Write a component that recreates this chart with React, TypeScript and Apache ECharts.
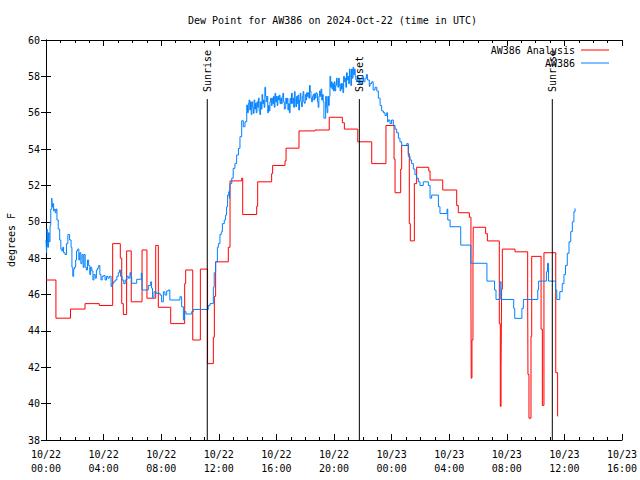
import React, { useEffect, useRef } from 'react';
import * as echarts from 'echarts';

const FONT = '"DejaVu Sans Mono", "Liberation Mono", monospace';
const titleText = 'Dew Point for AW386 on 2024-Oct-22 (time in UTC)';
const yAxisTitle = 'degrees F';
const analysisName = 'AW386 Analysis';
const stationName = 'AW386';
const analysisColor = '#ff0000';
const stationColor = '#0080ff';

// x axis: hours since 10/22 00:00 UTC
const xMin = 0;
const xMax = 40;
const xStep = 4;
const yMin = 38;
const yMax = 60;
const yStep = 2;

const sunEventHours = [11.2, 21.76, 35.16];
const sunEventLabels = ['Sunrise', 'Sunset', 'Sunrise'];
const sunLineTop = 56.75;

// AW386 Analysis [hour, deg F]
const analysisData: number[][] = [
  [0.0, 46.8], [0.69, 44.7], [1.7, 45.2], [2.71, 45.5], [3.7, 45.4], [4.63, 48.8],
  [5.16, 48.0], [5.26, 45.5], [5.37, 44.9], [5.6, 48.4], [5.92, 45.6], [6.67, 48.45],
  [7.01, 45.8], [7.62, 48.7], [7.8, 45.3], [8.66, 44.4], [9.63, 46.6], [9.7, 47.35],
  [10.19, 43.5], [10.72, 47.4], [11.22, 42.2], [11.62, 43.65], [11.69, 45.9], [11.78, 47.8],
  [12.66, 48.6], [12.78, 52.25], [13.59, 52.4], [13.66, 50.4], [14.63, 50.85], [14.7, 52.2],
  [15.67, 52.65], [15.74, 53.1], [16.6, 53.35], [16.67, 54.05], [17.57, 55.0], [18.68, 55.05],
  [19.67, 55.75], [20.58, 55.45], [20.72, 55.1], [21.65, 54.4], [22.62, 53.2], [23.61, 55.3],
  [24.17, 53.45], [24.24, 51.6], [24.63, 52.9], [24.7, 54.2], [25.16, 53.75], [25.23, 49.9],
  [25.3, 48.95], [25.58, 52.1], [25.74, 53.0], [26.58, 52.8], [26.67, 52.3], [27.55, 51.75],
  [28.52, 50.9], [28.63, 50.5], [29.4, 50.25], [29.51, 45.7], [29.53, 41.4], [29.58, 43.5],
  [29.65, 47.6], [29.67, 49.7], [30.53, 49.35], [30.65, 48.95], [31.48, 44.4], [31.55, 39.85],
  [31.6, 42.0], [31.64, 46.3], [31.69, 48.5], [32.57, 48.35], [33.45, 46.1], [33.47, 41.6],
  [33.54, 39.2], [33.68, 43.7], [33.73, 48.1], [34.38, 44.1], [34.47, 39.9], [34.58, 48.3],
  [35.4, 41.7], [35.53, 39.3], [35.56, 39.3],
];

// AW386 station observations [hour, deg F]
const stationData: number[][] = [
  [0.0, 49.0], [0.04, 48.3], [0.08, 49.6], [0.12, 48.6], [0.17, 49.4], [0.22, 48.9],
  [0.28, 49.8], [0.33, 50.7], [0.4, 51.3], [0.44, 50.8], [0.48, 51.0], [0.53, 50.6],
  [0.58, 50.7], [0.64, 50.5], [0.7, 50.7], [0.76, 50.1], [0.85, 49.6], [0.95, 49.0],
  [1.03, 48.5], [1.1, 48.4], [1.16, 48.6], [1.22, 48.3], [1.32, 48.2], [1.42, 48.8],
  [1.52, 49.3], [1.64, 49.0], [1.74, 48.6], [1.8, 47.5], [1.86, 47.0], [1.92, 47.4],
  [1.98, 47.5], [2.06, 47.9], [2.12, 48.4], [2.2, 48.5], [2.28, 47.9], [2.34, 48.3],
  [2.42, 47.7], [2.5, 48.2], [2.58, 47.5], [2.64, 48.2], [2.72, 47.5], [2.8, 47.35],
  [2.88, 47.9], [2.96, 47.6], [3.04, 47.1], [3.1, 47.5], [3.18, 47.3], [3.26, 46.8],
  [3.33, 47.1], [3.42, 46.9], [3.5, 47.35], [3.58, 47.45], [3.66, 47.6], [3.74, 47.1],
  [3.82, 46.8], [3.9, 47.0], [4.0, 47.05], [4.1, 46.8], [4.2, 47.0], [4.3, 46.9],
  [4.4, 47.0], [4.52, 46.45], [4.58, 46.6], [4.68, 46.7], [4.8, 46.8], [4.92, 47.0],
  [5.02, 47.2], [5.1, 47.35], [5.18, 47.0], [5.28, 46.8], [5.4, 46.6], [5.5, 46.8],
  [5.62, 47.0], [5.72, 46.9], [5.83, 47.2], [5.9, 46.98], [5.95, 46.62], [6.3, 46.84],
  [6.62, 47.17], [6.67, 46.25], [7.1, 46.5], [7.27, 46.7], [7.33, 46.35], [7.4, 45.85],
  [7.5, 46.15], [7.64, 46.07], [7.92, 45.97], [8.03, 45.6], [8.15, 46.15], [8.26, 45.97],
  [8.38, 46.2], [8.5, 46.25], [8.6, 45.7], [9.3, 45.88], [9.42, 45.33], [9.54, 44.6],
  [9.61, 45.06], [9.72, 44.93], [10.12, 45.06], [10.23, 45.18], [11.27, 45.4], [11.39, 45.5],
  [11.62, 46.4], [11.68, 47.2], [11.78, 47.8], [11.9, 48.6], [11.97, 48.8], [12.08, 49.3],
  [12.17, 49.45], [12.25, 49.9], [12.38, 50.1], [12.47, 50.37], [12.54, 50.83], [12.61, 51.47],
  [12.7, 51.66], [12.74, 51.29], [12.78, 52.1], [12.9, 52.4], [13.0, 52.94], [13.12, 53.2],
  [13.24, 53.67], [13.36, 54.04], [13.47, 54.68], [13.59, 55.56], [13.7, 55.23], [13.82, 55.5],
  [13.94, 56.42], [13.99, 56.0], [14.05, 56.5], [14.1, 56.7], [14.15, 56.15], [14.2, 56.6],
  [14.25, 55.9], [14.3, 56.6], [14.35, 56.3], [14.4, 55.97], [14.45, 56.7], [14.5, 56.2],
  [14.55, 56.52], [14.6, 56.0], [14.65, 56.6], [14.7, 56.3], [14.75, 56.8], [14.8, 56.1],
  [14.85, 55.9], [14.9, 56.6], [14.95, 56.2], [15.0, 57.0], [15.05, 56.5], [15.1, 56.7],
  [15.15, 56.3], [15.2, 57.4], [15.25, 56.9], [15.3, 56.6], [15.35, 56.9], [15.4, 56.0],
  [15.45, 56.4], [15.5, 56.1], [15.55, 56.6], [15.6, 56.8], [15.65, 56.4], [15.7, 56.8],
  [15.75, 56.5], [15.8, 56.9], [15.85, 56.3], [15.9, 57.07], [15.95, 56.6], [16.0, 56.9],
  [16.05, 56.4], [16.1, 56.9], [16.15, 56.7], [16.2, 56.97], [16.25, 56.5], [16.3, 56.8],
  [16.35, 56.5], [16.4, 56.9], [16.45, 57.07], [16.5, 56.6], [16.55, 56.2], [16.6, 56.24],
  [16.65, 56.8], [16.7, 56.5], [16.75, 56.79], [16.8, 56.15], [16.85, 56.5], [16.9, 56.0],
  [16.95, 56.79], [17.0, 56.5], [17.05, 57.07], [17.1, 56.52], [17.15, 56.8], [17.2, 56.3],
  [17.25, 57.16], [17.3, 56.7], [17.35, 56.33], [17.4, 56.9], [17.45, 56.5], [17.5, 56.97],
  [17.55, 56.15], [17.6, 56.7], [17.65, 57.07], [17.7, 56.6], [17.75, 56.33], [17.8, 56.9],
  [17.85, 57.16], [17.9, 56.6], [17.95, 56.52], [18.0, 57.0], [18.05, 56.7], [18.1, 57.1],
  [18.15, 56.9], [18.2, 57.1], [18.25, 56.8], [18.3, 57.5], [18.35, 57.2], [18.4, 56.8],
  [18.45, 56.6], [18.5, 56.9], [18.55, 57.0], [18.6, 56.7], [18.65, 57.05], [18.7, 56.8],
  [18.75, 57.1], [18.8, 57.05], [18.85, 56.6], [18.9, 56.3], [18.95, 56.9], [19.0, 57.2],
  [19.05, 56.9], [19.1, 57.3], [19.15, 56.7], [19.2, 57.0], [19.25, 56.6], [19.3, 55.7],
  [19.42, 56.9], [19.47, 56.3], [19.52, 56.0], [19.57, 56.9], [19.62, 56.4], [19.67, 56.9],
  [19.72, 58.0], [19.77, 57.4], [19.82, 57.7], [19.87, 57.3], [19.92, 57.6], [19.97, 57.2],
  [20.02, 57.7], [20.07, 57.2], [20.12, 57.5], [20.17, 57.9], [20.22, 57.7], [20.27, 57.4],
  [20.32, 57.9], [20.37, 57.5], [20.42, 57.2], [20.47, 57.6], [20.52, 57.3], [20.57, 57.6],
  [20.62, 57.1], [20.67, 58.0], [20.72, 57.7], [20.77, 57.9], [20.82, 57.4], [20.87, 58.2],
  [20.92, 57.8], [20.97, 58.0], [21.02, 57.6], [21.07, 58.4], [21.12, 58.0], [21.17, 57.5],
  [21.22, 58.4], [21.27, 57.9], [21.32, 58.5], [21.37, 58.1], [21.42, 58.4], [21.47, 58.0],
  [21.52, 57.8], [21.57, 57.7], [21.62, 58.0], [21.67, 57.9], [21.72, 57.6], [21.77, 57.9],
  [21.82, 57.6], [21.95, 58.0], [22.05, 57.7], [22.15, 57.9], [22.25, 58.1], [22.32, 57.8],
  [22.45, 57.45], [22.5, 57.6], [22.62, 57.7], [22.72, 57.25], [22.85, 57.4], [22.97, 57.2],
  [23.08, 56.8], [23.2, 56.4], [23.31, 56.1], [23.43, 56.0], [23.54, 55.85], [23.66, 56.0],
  [23.72, 55.5], [23.77, 55.6], [23.89, 55.4], [24.0, 55.6], [24.12, 55.3], [24.24, 55.1],
  [24.35, 54.9], [24.47, 54.6], [24.58, 54.4], [24.7, 54.2], [25.05, 54.3], [25.16, 53.6],
  [25.28, 53.4], [25.39, 53.2], [25.51, 52.9], [25.62, 52.6], [25.74, 52.4], [25.86, 52.2],
  [25.97, 52.0], [26.2, 52.2], [26.55, 52.0], [26.67, 51.3], [26.78, 51.47], [27.25, 50.83],
  [27.36, 50.46], [27.85, 50.7], [27.9, 50.1], [28.06, 49.73], [28.8, 48.72], [29.5, 47.72],
  [30.62, 46.74], [31.15, 46.25], [31.25, 45.73], [31.53, 46.7], [31.6, 45.73], [32.48, 45.24],
  [32.55, 44.69], [33.05, 45.24], [33.15, 45.73], [34.15, 46.25], [34.21, 46.74], [34.75, 47.25],
  [34.83, 47.72], [34.9, 46.74], [35.38, 46.25], [35.47, 45.73], [35.68, 46.16], [35.85, 46.6],
  [35.97, 47.1], [36.08, 47.6], [36.2, 48.27], [36.32, 48.9], [36.44, 49.46], [36.55, 50.0],
  [36.66, 50.56], [36.74, 50.74],
];

function fmtTime(v: number): string {
  const day = 22 + Math.floor(v / 24);
  const hh = v % 24;
  return `10/${day}\n${String(hh).padStart(2, '0')}:00`;
}

export default function App() {
  const ref = useRef<HTMLDivElement>(null);
  useEffect(() => {
    if (!ref.current) return;
    const chart = echarts.init(ref.current, null, { renderer: 'svg' });
    const axisLine = { show: true, lineStyle: { color: '#000', width: 1 } };
    const textBase = { fontFamily: FONT, fontSize: 10, color: '#000' };

    const sunSeries = sunEventHours.map((h, i) => ({
      type: 'line',
      name: sunEventLabels[i],
      xAxisIndex: 0,
      yAxisIndex: 0,
      symbol: 'circle',
      symbolSize: 0.1,
      showSymbol: true,
      z: 5,
      silent: true,
      itemStyle: { color: '#000' },
      lineStyle: { color: '#000', width: 1 },
      data: [
        { value: [h, yMin], symbol: 'none' },
        {
          value: [h, sunLineTop],
          label: {
            show: true,
            formatter: sunEventLabels[i],
            position: 'top',
            distance: 7,
            rotate: 90,
            align: 'left',
            verticalAlign: 'middle',
            ...textBase,
          },
        },
      ],
    }));

    chart.setOption({
      animation: false,
      backgroundColor: '#fff',
      title: {
        text: titleText,
        left: 183,
        top: 10,
        textStyle: { ...textBase, fontWeight: 'normal', lineHeight: 10 },
      },
      grid: { left: 46, right: 18, top: 40, bottom: 40, containLabel: false, outerBoundsMode: 'none' },
      xAxis: [
        {
          type: 'value', min: xMin, max: xMax, interval: xStep, position: 'bottom',
          axisLine,
          axisTick: { show: true, inside: true, length: 6, lineStyle: { color: '#000' } },
          minorTick: { show: true, splitNumber: 4, length: 3, lineStyle: { color: '#000' } },
          splitLine: { show: false },
          axisLabel: { ...textBase, margin: 7, lineHeight: 14, formatter: fmtTime },
        },
        {
          type: 'value', min: xMin, max: xMax, interval: xStep, position: 'top',
          axisLine,
          axisTick: { show: true, inside: true, length: 6, lineStyle: { color: '#000' } },
          minorTick: { show: true, splitNumber: 4, length: 3, lineStyle: { color: '#000' } },
          splitLine: { show: false },
          axisLabel: { show: false },
        },
      ],
      yAxis: [
        {
          type: 'value', min: yMin, max: yMax, interval: yStep, position: 'left',
          name: yAxisTitle, nameLocation: 'middle', nameRotate: 90, nameGap: 30,
          nameTextStyle: { ...textBase },
          axisLine,
          axisTick: { show: true, inside: true, length: 5, lineStyle: { color: '#000' } },
          splitLine: { show: false },
          axisLabel: { ...textBase, margin: 6 },
        },
        {
          type: 'value', min: yMin, max: yMax, interval: yStep, position: 'right',
          axisLine,
          axisTick: { show: true, inside: true, length: 5, lineStyle: { color: '#000' } },
          splitLine: { show: false },
          axisLabel: { show: false },
        },
      ],
      graphic: [
        { type: 'text', x: 575, y: 50, style: { text: analysisName, textAlign: 'right', textVerticalAlign: 'middle', font: `10px ${FONT}`, fill: '#000' } },
        { type: 'line', shape: { x1: 581, y1: 50, x2: 609, y2: 50 }, style: { stroke: analysisColor, lineWidth: 1 } },
        { type: 'text', x: 575, y: 63, style: { text: stationName, textAlign: 'right', textVerticalAlign: 'middle', font: `10px ${FONT}`, fill: '#000' } },
        { type: 'line', shape: { x1: 581, y1: 63, x2: 609, y2: 63 }, style: { stroke: stationColor, lineWidth: 1 } },
      ],
      series: [
        {
          type: 'line', name: analysisName, step: 'end', symbol: 'none', z: 2,
          lineStyle: { color: analysisColor, width: 1 }, itemStyle: { color: analysisColor },
          data: analysisData,
        },
        {
          type: 'line', name: stationName, step: 'end', symbol: 'none', z: 3,
          lineStyle: { color: stationColor, width: 1 }, itemStyle: { color: stationColor },
          data: stationData,
        },
        ...sunSeries,
      ],
    });
    return () => chart.dispose();
  }, []);
  return (
    <div
      ref={ref}
      style={{ position: 'fixed', left: 0, top: 0, width: 640, height: 480, background: '#fff' }}
    />
  );
}
